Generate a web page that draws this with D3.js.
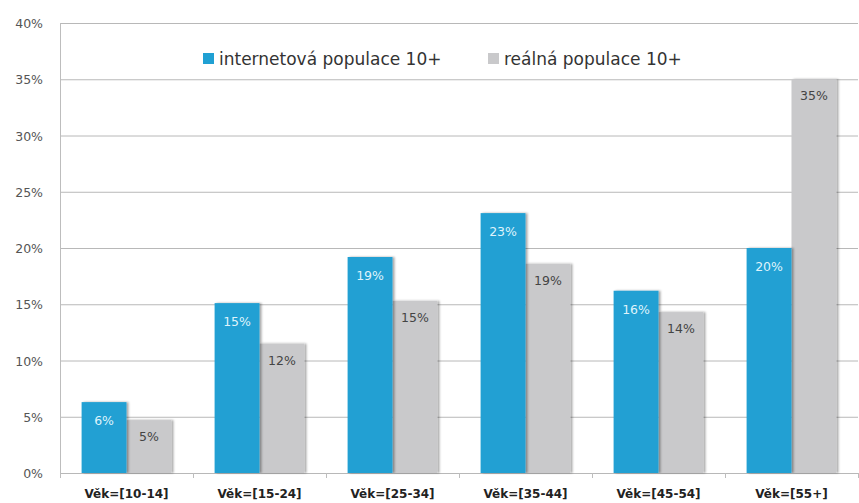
<!DOCTYPE html>
<html><head><meta charset="utf-8">
<script src="https://cdn.jsdelivr.net/npm/d3@7"></script>
<style>body{margin:0;background:#fff}svg{display:block}</style>
</head><body>
<script>
const categories = ["Věk=[10-14]","Věk=[15-24]","Věk=[25-34]","Věk=[35-44]","Věk=[45-54]","Věk=[55+]"];
const seriesNames = ["internetová populace 10+","reálná populace 10+"];
const internetValues = [6.3, 15.1, 19.2, 23.1, 16.2, 20.0];
const realValues = [4.7, 11.5, 15.3, 18.6, 14.3, 35.0];
const internetLabels = ["6%","15%","19%","23%","16%","20%"];
const realLabels = ["5%","12%","15%","19%","14%","35%"];
const yTicks = [0,5,10,15,20,25,30,35,40];

const W=859,H=503;
const m={l:60,r:1};
const FONT="'DejaVu Sans', sans-serif";
const svg=d3.select("body").append("svg").attr("width",W).attr("height",H);
const defs=svg.append("defs");
const f=defs.append("filter").attr("id","sh").attr("x","-10%").attr("y","-10%").attr("width","130%").attr("height","130%");
f.append("feDropShadow").attr("dx",2).attr("dy",0).attr("stdDeviation",1.2).attr("flood-color","#000").attr("flood-opacity",0.35);

const x=d3.scaleBand().domain(categories).range([m.l,W-m.r]).paddingInner(0.325).paddingOuter(0.1625);
const y=d3.scaleLinear().domain([0,40]).range([473,23]);
const xs=d3.scaleBand().domain(seriesNames).range([0,x.bandwidth()]);

// gridlines
svg.append("g").selectAll("line").data(yTicks).join("line")
 .attr("x1",m.l).attr("x2",W-m.r).attr("y1",d=>y(d)+0.5).attr("y2",d=>y(d)+0.5)
 .attr("stroke","#b8b8b8").attr("stroke-width",1);
// y axis line
svg.append("line").attr("x1",m.l+0.5).attr("x2",m.l+0.5).attr("y1",y(40)).attr("y2",y(0)+5).attr("stroke","#bdbdbd");
// y labels
svg.append("g").selectAll("text").data(yTicks).join("text")
 .attr("x",43).attr("y",d=>y(d)+5).attr("text-anchor","end")
 .attr("font-family",FONT).attr("font-size",12.5).attr("fill","#555")
 .text(d=>d+"%");
// x ticks at band boundaries
const bounds=d3.range(categories.length+1).map(i=>m.l+i*(W-m.r-m.l)/categories.length);
svg.append("g").selectAll("line").data(bounds).join("line")
 .attr("x1",d=>d+0.5).attr("x2",d=>d+0.5).attr("y1",y(0)).attr("y2",y(0)+5).attr("stroke","#bdbdbd");

const data=categories.map((c,i)=>({c,vals:[
 {s:seriesNames[0],v:internetValues[i],l:internetLabels[i]},
 {s:seriesNames[1],v:realValues[i],l:realLabels[i]}]}));
const colors={[seriesNames[0]]:"#20a0d3",[seriesNames[1]]:"#c9c9cb"};
const labelColors={[seriesNames[0]]:"#dff3fb",[seriesNames[1]]:"#444"};

const g=svg.append("g").selectAll("g").data(data).join("g").attr("transform",d=>`translate(${x(d.c)},0)`);
g.selectAll("rect").data(d=>d.vals.slice().reverse()).join("rect")
 .attr("x",d=>xs(d.s)).attr("width",xs.bandwidth()).attr("y",d=>y(d.v)).attr("height",d=>y(0)-y(d.v))
 .attr("fill",d=>colors[d.s]).attr("filter","url(#sh)");
g.selectAll("text").data(d=>d.vals).join("text")
 .attr("x",d=>xs(d.s)+xs.bandwidth()/2).attr("y",(d,i)=>y(d.v)+(i===0?23:21)).attr("text-anchor","middle")
 .attr("font-family",FONT).attr("font-size",12.5).attr("fill",d=>labelColors[d.s])
 .text(d=>d.l);

// x labels
svg.append("g").selectAll("text").data(categories).join("text")
 .attr("x",d=>x(d)+x.bandwidth()/2).attr("y",498).attr("text-anchor","middle")
 .attr("font-family",FONT).attr("font-size",12).attr("font-weight","bold").attr("fill","#222")
 .text(d=>d);

// legend
const lg=svg.append("g");
const lx=[203,488];
seriesNames.forEach((s,i)=>{
 lg.append("rect").attr("x",lx[i]).attr("y",53).attr("width",11).attr("height",11).attr("fill",colors[s]);
 lg.append("text").attr("x",lx[i]+16).attr("y",65).attr("font-family",FONT)
  .attr("font-size",17).attr("fill","#333").text(s);
});
</script>
</body></html>
